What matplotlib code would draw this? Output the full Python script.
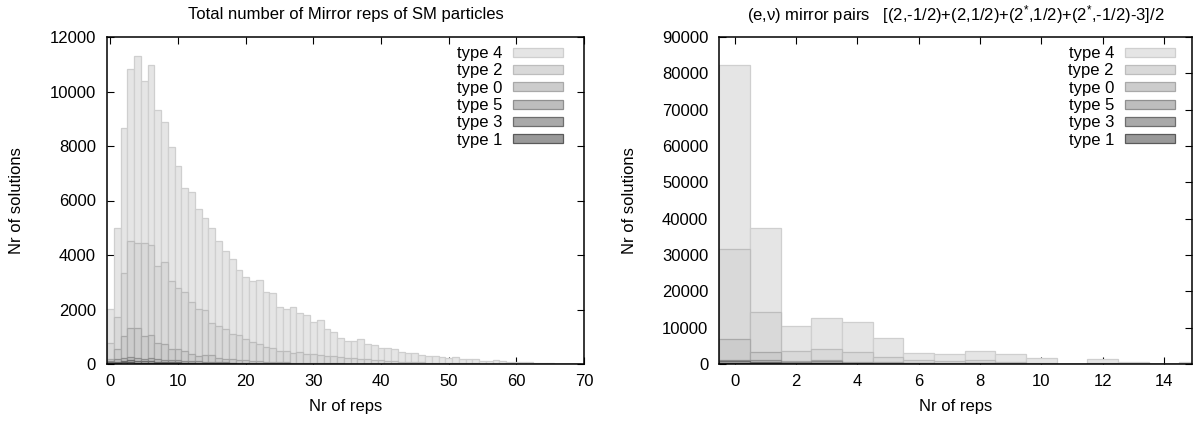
import matplotlib
matplotlib.use("Agg")
import matplotlib.pyplot as plt
import numpy as np

plt.rcParams['font.family'] = ['Liberation Sans', 'DejaVu Sans']
plt.rcParams['mathtext.fontset'] = 'custom'
plt.rcParams['mathtext.rm'] = 'Liberation Sans'
plt.rcParams['mathtext.it'] = 'Liberation Sans:italic'

# ---------------- data ----------------
type_labels = ["type 4", "type 2", "type 0", "type 5", "type 3", "type 1"]

# left chart: total number of mirror reps (bins 0..69)
left_t4 = [2020, 4990, 8650, 10830, 11310, 10380, 10970, 9310, 8880, 7970,
           7250, 6460, 6320, 5690, 5360, 4990, 4500, 4130, 3850, 3460,
           3210, 3050, 3090, 2640, 2600, 2090, 2010, 2090, 1860, 1780,
           1550, 1600, 1300, 1170, 970, 860, 857, 906, 722, 685,
           588, 575, 539, 453, 392, 392, 331, 294, 294, 269,
           208, 245, 171, 171, 184, 110, 122, 147, 110, 86,
           86, 73, 73, 49, 25, 20, 15, 10, 10, 5]
left_t2 = [760, 1740, 3355, 4520, 4430, 4430, 4360, 3590, 3730, 3050,
           2780, 2630, 2265, 2030, 1970, 1490, 1410, 1290, 1100, 1080,
           905, 800, 750, 640, 600, 490, 490, 390, 450, 370,
           370, 340, 300, 280, 250, 210, 208, 200, 170, 150,
           130, 115, 100, 90, 80, 70, 60, 50, 45, 40,
           35, 30, 25, 20, 20, 15, 12, 10, 8, 6,
           5, 4, 3, 2, 0, 0, 0, 0, 0, 0]
left_t0 = [200, 540, 1030, 1310, 1310, 1030, 1050, 760, 720, 540,
           540, 490, 370, 290, 340, 340, 220, 200, 180, 160,
           140, 120, 100, 90, 80, 70, 60, 55, 50, 45,
           40, 35, 30, 25, 20, 18, 15, 12, 10, 8,
           6, 5, 4, 3, 2, 0, 0, 0, 0, 0,
           0, 0, 0, 0, 0, 0, 0, 0, 0, 0,
           0, 0, 0, 0, 0, 0, 0, 0, 0, 0]
left_t5 = [120, 180, 230, 240, 230, 200, 210, 170, 160, 150,
           140, 120, 110, 100, 90, 80, 70, 60, 55, 50,
           45, 40, 35, 30, 25, 22, 20, 18, 15, 12,
           10, 8, 6, 5, 4, 3, 0, 0, 0, 0,
           0, 0, 0, 0, 0, 0, 0, 0, 0, 0,
           0, 0, 0, 0, 0, 0, 0, 0, 0, 0,
           0, 0, 0, 0, 0, 0, 0, 0, 0, 0]
left_t3 = [60, 90, 120, 130, 110, 110, 100, 90, 80, 70,
           60, 55, 50, 45, 40, 35, 30, 25, 20, 18,
           15, 12, 10, 8, 6, 5, 4, 3, 2, 1,
           0, 0, 0, 0, 0, 0, 0, 0, 0, 0,
           0, 0, 0, 0, 0, 0, 0, 0, 0, 0,
           0, 0, 0, 0, 0, 0, 0, 0, 0, 0,
           0, 0, 0, 0, 0, 0, 0, 0, 0, 0]
left_t1 = [30, 50, 60, 60, 55, 50, 45, 40, 35, 30,
           25, 22, 20, 18, 15, 12, 10, 8, 6, 5,
           4, 3, 2, 1, 0, 0, 0, 0, 0, 0,
           0, 0, 0, 0, 0, 0, 0, 0, 0, 0,
           0, 0, 0, 0, 0, 0, 0, 0, 0, 0,
           0, 0, 0, 0, 0, 0, 0, 0, 0, 0,
           0, 0, 0, 0, 0, 0, 0, 0, 0, 0]

# right chart: (e,nu) mirror pairs (bins 0..15)
right_t4 = [82300, 37400, 10500, 12700, 11600, 7200, 3100, 2700, 3600, 2800, 1650, 0, 1400, 630, 0, 550]
right_t2 = [31700, 14200, 3700, 4100, 3400, 1900, 1200, 700, 1000, 550, 300, 0, 250, 100, 0, 100]
right_t0 = [6900, 3400, 850, 1200, 650, 450, 300, 200, 300, 150, 100, 0, 60, 0, 0, 0]
right_t5 = [1200, 1200, 500, 700, 400, 250, 150, 100, 150, 80, 50, 0, 30, 0, 0, 0]
right_t3 = [800, 600, 250, 350, 200, 120, 80, 50, 80, 40, 20, 0, 10, 0, 0, 0]
right_t1 = [400, 300, 100, 150, 100, 60, 40, 20, 40, 20, 10, 0, 0, 0, 0, 0]

left_series = [left_t4, left_t2, left_t0, left_t5, left_t3, left_t1]
right_series = [right_t4, right_t2, right_t0, right_t5, right_t3, right_t1]

left_xticks = [0, 10, 20, 30, 40, 50, 60, 70]
left_yticks = [0, 2000, 4000, 6000, 8000, 10000, 12000]
right_xticks = [0, 2, 4, 6, 8, 10, 12, 14]
right_yticks = [0, 10000, 20000, 30000, 40000, 50000, 60000, 70000, 80000, 90000]

left_title = "Total number of Mirror reps of SM particles"
right_title = "(e,ν) mirror pairs   [(2,-1/2)+(2,1/2)+(2$^{*}$,1/2)+(2$^{*}$,-1/2)-3]/2"

# ---------------- style ----------------
fills = ["#e5e5e5", "#d9d9d9", "#cccccc", "#bdbdbd", "#a9a9a9", "#999999"]
edges = ["#cfcfcf", "#bdbdbd", "#a9a9a9", "#8f8f8f", "#6e6e6e", "#5a5a5a"]

W, H = 1202, 421
fig = plt.figure(figsize=(W / 100, H / 100), dpi=100)
ax1 = fig.add_axes([107 / W, 57 / H, 477 / W, 327 / H])
ax2 = fig.add_axes([719.3 / W, 57 / H, 472.4 / W, 327 / H])


def draw(ax, series, xlim, ylim, xticks, yticks, leg_x):
    for vals, lab, fc, ec in zip(series, type_labels, fills, edges):
        x = np.arange(len(vals))
        ax.bar(x, vals, width=1.0, align='center', color=fc, edgecolor=ec,
               linewidth=0.9, label=lab, zorder=2)
    ax.set_xlim(*xlim)
    ax.set_ylim(*ylim)
    ax.set_xticks(xticks)
    ax.set_yticks(yticks)
    ax.set_axisbelow(True)
    ax.tick_params(direction='in', length=5, width=0.8, top=True, right=True,
                   labelsize=12, colors='black')
    ax.tick_params(axis='x', pad=7)
    ax.tick_params(axis='y', pad=8)
    for s in ax.spines.values():
        s.set_linewidth(1.1)
        s.set_zorder(5)
    ax.legend(loc='upper right', bbox_to_anchor=(leg_x, 0.972), frameon=False,
              markerfirst=False, handlelength=3.0, handleheight=0.47,
              handletextpad=0.66, labelspacing=0.14, borderpad=0,
              borderaxespad=0, fontsize=12)


draw(ax1, left_series, (-0.5, 70), (0, 12000), left_xticks, left_yticks, 0.9566)
draw(ax2, right_series, (-0.5, 14.9), (0, 90000), right_xticks, right_yticks, 0.9646)

fig.text(345.5 / W, 1 - 14 / H, left_title, ha='center', va='center', fontsize=12)
fig.text(955.5 / W, 1 - 15 / H, right_title, ha='center', va='center', fontsize=12)
fig.text(17 / W, 1 - 200.5 / H, "Nr of solutions", rotation=90, ha='center', va='center', fontsize=12)
fig.text(630 / W, 1 - 200.5 / H, "Nr of solutions", rotation=90, ha='center', va='center', fontsize=12)
fig.text(345.5 / W, 1 - 407 / H, "Nr of reps", ha='center', va='center', fontsize=12)
fig.text(955.5 / W, 1 - 407 / H, "Nr of reps", ha='center', va='center', fontsize=12)

fig.savefig("out.png", dpi=100)
